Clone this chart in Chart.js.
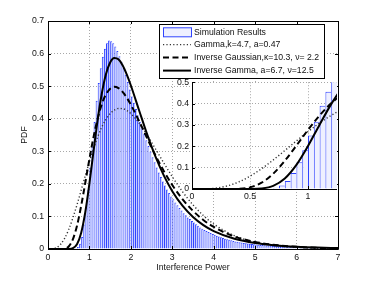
<!DOCTYPE html>
<html>
<head>
<meta charset="utf-8">
<script src="https://cdn.jsdelivr.net/npm/chart.js@4.4.1/dist/chart.umd.min.js"></script>
<style>
  html, body { margin: 0; padding: 0; background: #fff; }
  #wrap { position: relative; width: 374px; height: 281px; }
  #main { position: absolute; left: 0; top: 0; }
  #inset { position: absolute; left: 150px; top: 74px; }
</style>
</head>
<body>
<div id="wrap">
  <canvas id="main" width="374" height="281"></canvas>
  <canvas id="inset" width="188" height="130"></canvas>
</div>
<script>
// histogram: bin centres (width 0.05) and heights
const binCenters = [
  0.675, 0.725, 0.775, 0.825, 0.875, 0.925, 0.975, 1.025, 1.075, 1.125,
  1.175, 1.225, 1.275, 1.325, 1.375, 1.425, 1.475, 1.525, 1.575, 1.625,
  1.675, 1.725, 1.775, 1.825, 1.875, 1.925, 1.975, 2.025, 2.075, 2.125,
  2.175, 2.225, 2.275, 2.325, 2.375, 2.425, 2.475, 2.525, 2.575, 2.625,
  2.675, 2.725, 2.775, 2.825, 2.875, 2.925, 2.975, 3.025, 3.075, 3.125,
  3.175, 3.225, 3.275, 3.325, 3.375, 3.425, 3.475, 3.525, 3.575, 3.625,
  3.675, 3.725, 3.775, 3.825, 3.875, 3.925, 3.975, 4.025, 4.075, 4.125,
  4.175, 4.225, 4.275, 4.325, 4.375, 4.425, 4.475, 4.525, 4.575, 4.625,
  4.675, 4.725, 4.775, 4.825, 4.875, 4.925, 4.975, 5.025, 5.075, 5.125,
  5.175, 5.225, 5.275, 5.325, 5.375, 5.425, 5.475, 5.525, 5.575, 5.625,
  5.675, 5.725, 5.775, 5.825, 5.875, 5.925, 5.975, 6.025, 6.075, 6.125,
  6.175, 6.225, 6.275, 6.325, 6.375, 6.425, 6.475, 6.525, 6.575, 6.625,
  6.675, 6.725, 6.775, 6.825, 6.875, 6.925, 6.975
];
const binHeights = [
  0.002, 0.006, 0.016, 0.037, 0.075, 0.125, 0.182, 0.25, 0.315, 0.39,
  0.455, 0.51, 0.555, 0.59, 0.615, 0.632, 0.64, 0.638, 0.632, 0.622,
  0.608, 0.592, 0.575, 0.556, 0.535, 0.513, 0.49, 0.468, 0.449, 0.43,
  0.41, 0.391, 0.371, 0.353, 0.334, 0.316, 0.299, 0.282, 0.266, 0.25,
  0.235, 0.221, 0.207, 0.195, 0.183, 0.172, 0.161, 0.153, 0.143, 0.134,
  0.126, 0.118, 0.11, 0.104, 0.097, 0.092, 0.086, 0.081, 0.076, 0.071,
  0.066, 0.062, 0.058, 0.055, 0.052, 0.049, 0.046, 0.0435, 0.041, 0.0385,
  0.036, 0.0335, 0.0316, 0.0299, 0.0282, 0.0265, 0.0248, 0.0234, 0.0222, 0.021,
  0.0198, 0.0186, 0.0176, 0.0168, 0.016, 0.0152, 0.0144, 0.0136, 0.0131, 0.0126,
  0.012, 0.0115, 0.011, 0.0105, 0.0099, 0.0094, 0.0089, 0.0084, 0.0081, 0.0078,
  0.0074, 0.0071, 0.0068, 0.0065, 0.0062, 0.0058, 0.0055, 0.0053, 0.005, 0.0049,
  0.0046, 0.0045, 0.0042, 0.0041, 0.0038, 0.0037, 0.0034, 0.0033, 0.0032, 0.003,
  0.0028, 0.0027, 0.0026, 0.0024, 0.0023, 0.0022, 0.0021
];

// fitted pdf curves, sampled at curveX
const curveX = [
  0, 0.1, 0.2, 0.3, 0.4, 0.5, 0.6, 0.7, 0.8, 0.9, 1.0,
  1.1, 1.2, 1.3, 1.4, 1.5, 1.6, 1.7, 1.8, 1.9, 2.0,
  2.2, 2.4, 2.6, 2.8, 3.0, 3.25, 3.5, 3.75, 4.0,
  4.5, 5.0, 5.5, 6.0, 6.5, 7.0
];
const gammaPdf = [
  0, 0.0004, 0.0038, 0.0138, 0.0324, 0.0599, 0.0950, 0.1359, 0.1800, 0.2250, 0.2686,
  0.3089, 0.3445, 0.3745, 0.3982, 0.4155, 0.4264, 0.4314, 0.4309, 0.4254, 0.4158,
  0.3865, 0.3485, 0.3062, 0.2632, 0.2220, 0.1754, 0.1355, 0.1028, 0.0766,
  0.0409, 0.0209, 0.0102, 0.0049, 0.0023, 0.0010
];
const invGaussPdf = [
  0, 0, 0, 0.00002, 0.0009, 0.0077, 0.0294, 0.0715, 0.1320, 0.2033, 0.2766,
  0.3443, 0.4013, 0.4451, 0.4752, 0.4923, 0.4979, 0.4940, 0.4823, 0.4649, 0.4431,
  0.3924, 0.3383, 0.2860, 0.2383, 0.1964, 0.1523, 0.1170, 0.0892, 0.0676,
  0.0384, 0.0216, 0.0121, 0.0067, 0.0037, 0.0021
];
const invGammaPdf = [
  0, 0, 0, 0, 0, 0.0002, 0.0025, 0.0148, 0.0494, 0.1131, 0.2015,
  0.3013, 0.3975, 0.4783, 0.5372, 0.5727, 0.5865, 0.5822, 0.5642, 0.5362, 0.5020,
  0.4253, 0.3494, 0.2817, 0.2244, 0.1776, 0.1321, 0.0983, 0.0733, 0.0549,
  0.0314, 0.0184, 0.0111, 0.0069, 0.0044, 0.0028
];

const seriesLabels = [
  'Simulation Results',
  'Gamma,k=4.7, a=0.47',
  'Inverse Gaussian,\u03ba=10.3, \u03bd= 2.2',
  'Inverse Gamma, a=6.7, \u03bd=12.5'
];

const mainXTicks = [0, 1, 2, 3, 4, 5, 6, 7];
const mainYTicks = [0, 0.1, 0.2, 0.3, 0.4, 0.5, 0.6, 0.7];
const insetXTicks = [0, 0.5, 1];
const insetYTicks = [0, 0.1, 0.2, 0.3, 0.4, 0.5];

const fontFamily = "'Liberation Sans', Arial, Helvetica, sans-serif";
const fontSize = 8.7;
const barEdge = '#2f43ff';
const barFill = '#c6ccff';
const gridColor = '#a8a8a8';

Chart.defaults.font.family = fontFamily;
Chart.defaults.font.size = fontSize;
Chart.defaults.color = '#111';

function makeDatasets(fill) {
    const pts = ys => curveX.map((x, i) => ({ x: x, y: ys[i] }));
    const lineBase = { type: 'line', pointRadius: 0, fill: false, cubicInterpolationMode: 'monotone', borderColor: '#000' };
    return [
        {
            type: 'bar',
            label: seriesLabels[0],
            data: binCenters.map((c, i) => ({ x: c, y: binHeights[i] })),
            backgroundColor: fill,
            borderColor: barEdge,
            borderWidth: { top: 1, left: 1, right: 0, bottom: 0 },
            barPercentage: 1,
            categoryPercentage: 1,
            inflateAmount: 0,
            order: 4
        },
        Object.assign({}, lineBase, { label: seriesLabels[1], data: pts(gammaPdf), borderColor: '#333', borderWidth: 1.4, borderDash: [1.2, 2.2], order: 3 }),
        Object.assign({}, lineBase, { label: seriesLabels[2], data: pts(invGaussPdf), borderWidth: 2, borderDash: [6, 3.5], order: 2 }),
        Object.assign({}, lineBase, { label: seriesLabels[3], data: pts(invGammaPdf), borderWidth: 2, order: 1 })
    ];
}

// white plot area (used by the inset so it hides the main plot)
const whiteArea = {
    id: 'whiteArea',
    beforeDraw(chart) {
        const a = chart.chartArea;
        chart.ctx.save();
        chart.ctx.fillStyle = '#fff';
        chart.ctx.fillRect(a.left, a.top, a.right - a.left, a.bottom - a.top);
        chart.ctx.restore();
    }
};

// MATLAB style axes: box + ticks pointing inwards
const boxTicks = {
    id: 'boxTicks',
    afterDatasetsDraw(chart, args, opts) {
        const { ctx, chartArea: a, scales: { x, y } } = chart;
        const len = 3;
        ctx.save();
        ctx.strokeStyle = '#000';
        ctx.lineWidth = 1;
        ctx.setLineDash([]);
        ctx.beginPath();
        x.ticks.forEach(t => {
            const px = Math.round(x.getPixelForValue(t.value)) + 0.5;
            ctx.moveTo(px, a.bottom); ctx.lineTo(px, a.bottom - len);
            if (opts.full) { ctx.moveTo(px, a.top); ctx.lineTo(px, a.top + len); }
        });
        y.ticks.forEach(t => {
            const py = Math.round(y.getPixelForValue(t.value)) + 0.5;
            ctx.moveTo(a.left, py); ctx.lineTo(a.left + len, py);
            if (opts.full) { ctx.moveTo(a.right, py); ctx.lineTo(a.right - len, py); }
        });
        ctx.stroke();
        ctx.beginPath();
        if (opts.full) {
            ctx.rect(a.left + 0.5, a.top + 0.5, a.right - a.left, a.bottom - a.top);
        } else {
            ctx.moveTo(a.left + 0.5, a.top);
            ctx.lineTo(a.left + 0.5, a.bottom + 0.5);
            ctx.lineTo(a.right, a.bottom + 0.5);
        }
        ctx.stroke();
        ctx.restore();
    }
};

const boxLegend = {
    id: 'boxLegend',
    afterDraw(chart) {
        const ctx = chart.ctx;
        const ds = chart.data.datasets;
        const rows = [32.3, 44.6, 57.4, 70.6];
        ctx.save();
        ctx.fillStyle = '#fff';
        ctx.fillRect(159, 24, 165, 54);
        ctx.strokeStyle = '#000';
        ctx.lineWidth = 1;
        ctx.setLineDash([]);
        ctx.strokeRect(159.5, 24.5, 165, 54);
        ctx.font = fontSize + 'px ' + fontFamily;
        ctx.textBaseline = 'middle';
        ctx.textAlign = 'left';
        rows.forEach((yy, i) => {
            const d = ds[i];
            if (d.type === 'bar') {
                ctx.fillStyle = '#eef0ff';
                ctx.fillRect(163.5, yy - 4.5, 28, 9);
                ctx.strokeStyle = d.borderColor;
                ctx.lineWidth = 1;
                ctx.strokeRect(163.5, yy - 4.5, 28, 9);
            } else {
                ctx.strokeStyle = d.borderColor;
                ctx.lineWidth = d.borderWidth;
                ctx.setLineDash(d.borderDash || []);
                ctx.beginPath();
                ctx.moveTo(163, yy);
                ctx.lineTo(191, yy);
                ctx.stroke();
                ctx.setLineDash([]);
            }
            ctx.fillStyle = '#111';
            ctx.fillText(d.label, 194, yy);
        });
        ctx.restore();
    }
};

function axis(ticksArr, extra) {
    return Object.assign({
        type: 'linear',
        offset: false,
        afterBuildTicks: s => { s.ticks = ticksArr.map(v => ({ value: v })); },
        grid: { color: gridColor, drawTicks: false, offset: false },
        border: { display: false, dash: [1, 2] },
        ticks: { autoSkip: false, maxRotation: 0, callback: v => String(v) }
    }, extra);
}

new Chart(document.getElementById('main'), {
    type: 'bar',
    data: { datasets: makeDatasets(barFill) },
    options: {
        responsive: false,
        animation: false,
        layout: { padding: { left: 0, top: 21, right: 36, bottom: 0 } },
        plugins: { legend: { display: false }, tooltip: { enabled: false }, boxTicks: { full: true } },
        scales: {
            x: axis(mainXTicks, {
                min: 0, max: 7,
                afterFit: s => { s.height = 32; },
                ticks: { autoSkip: false, maxRotation: 0, padding: 3, callback: v => String(v) },
                title: { display: true, text: 'Interference Power', padding: { top: 0, bottom: 8 } }
            }),
            y: axis(mainYTicks, {
                min: 0, max: 0.7,
                afterFit: s => { s.width = 48; },
                ticks: { autoSkip: false, padding: 4, callback: v => String(v) },
                title: { display: true, text: 'PDF', padding: { top: 19, bottom: 0 } }
            })
        }
    },
    plugins: [boxTicks, boxLegend]
});

new Chart(document.getElementById('inset'), {
    type: 'bar',
    data: { datasets: makeDatasets('#eef0ff') },
    options: {
        responsive: false,
        animation: false,
        layout: { padding: { left: 0, top: 8, right: 1, bottom: 0 } },
        plugins: { legend: { display: false }, tooltip: { enabled: false }, boxTicks: { full: false } },
        scales: {
            x: axis(insetXTicks, {
                min: 0, max: 1.25,
                afterFit: s => { s.height = 15; },
                ticks: { autoSkip: false, maxRotation: 0, padding: 2.6, callback: v => String(v) }
            }),
            y: axis(insetYTicks, {
                min: 0, max: 0.5,
                afterFit: s => { s.width = 42; },
                ticks: { autoSkip: false, padding: 3, callback: v => String(v) }
            })
        }
    },
    plugins: [whiteArea, boxTicks]
});
</script>
</body>
</html>
